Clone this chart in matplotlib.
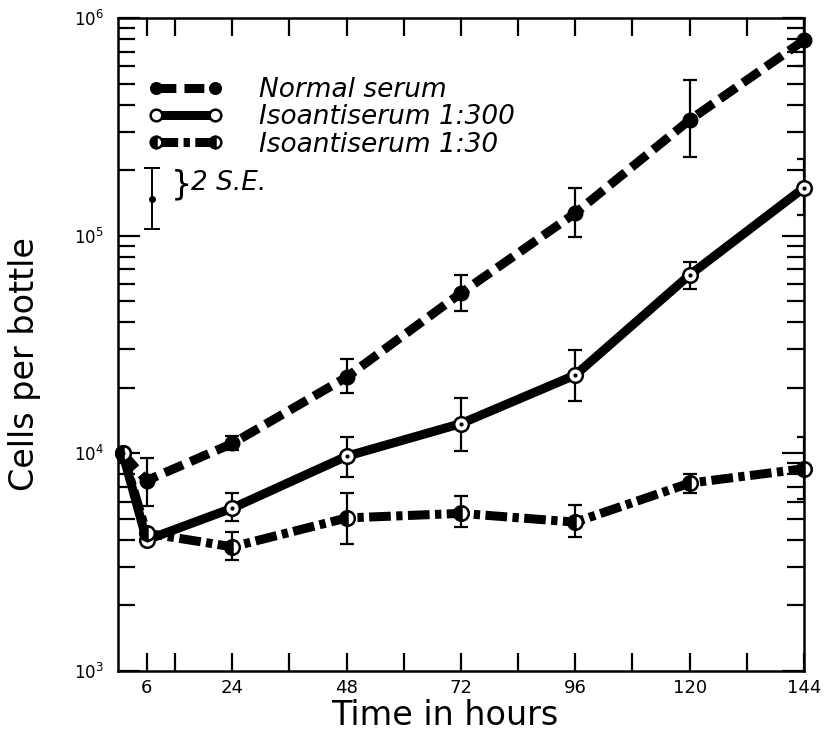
import matplotlib
matplotlib.use("Agg")
import matplotlib.pyplot as plt
import numpy as np

# ---- data ----
hours = [1, 6, 24, 48, 72, 96, 120, 144]
normal = [1.0e4, 7.5e3, 1.11e4, 2.24e4, 5.45e4, 1.27e5, 3.4e5, 7.9e5]
normal_lo = [None, 5.7e3, 1.04e4, 1.9e4, 4.5e4, 9.9e4, 2.3e5, 6.0e5]
normal_hi = [None, 9.5e3, 1.2e4, 2.7e4, 6.6e4, 1.65e5, 5.2e5, 1.03e6]

iso300 = [1.0e4, 4.0e3, 5.6e3, 9.7e3, 1.37e4, 2.29e4, 6.6e4, 1.66e5]
iso300_lo = [None, None, 4.9e3, 7.8e3, 1.02e4, 1.74e4, 5.7e4, 1.24e5]
iso300_hi = [None, None, 6.6e3, 1.19e4, 1.8e4, 2.98e4, 7.6e4, 2.25e5]

iso30 = [1.0e4, 4.3e3, 3.72e3, 5.05e3, 5.3e3, 4.83e3, 7.3e3, 8.5e3]
iso30_lo = [None, None, 3.24e3, 3.83e3, 4.6e3, 4.13e3, 6.6e3, 6.2e3]
iso30_hi = [None, None, 4.35e3, 6.6e3, 6.4e3, 5.8e3, 8.0e3, 1.19e4]

xticks = [6, 24, 48, 72, 96, 120, 144]
xminor = [12, 36, 60, 84, 108, 132]
labels = ["Normal serum", "Isoantiserum 1:300", "Isoantiserum 1:30"]

fig = plt.figure(figsize=(8.28, 7.32), dpi=100)
ax = fig.add_axes([0.1425, 0.0833, 0.971 - 0.1425, 0.9754 - 0.0833])
ax.set_yscale("log")
ax.set_xlim(0, 144)
ax.set_ylim(1e3, 1e6)

lw = 6.5
ms = 10.5

def errbars(x, v, lo, hi):
    xs, ys, el, eh = [], [], [], []
    for xi, vi, l, h in zip(x, v, lo, hi):
        if l is None:
            continue
        xs.append(xi); ys.append(vi); el.append(vi - l); eh.append(h - vi)
    ax.errorbar(xs, ys, yerr=[el, eh], fmt="none", ecolor="black",
                elinewidth=1.6, capsize=5, capthick=1.6, zorder=2)

errbars(hours, normal, normal_lo, normal_hi)
errbars(hours, iso300, iso300_lo, iso300_hi)
errbars(hours, iso30, iso30_lo, iso30_hi)

l1, = ax.plot(hours, normal, color="black", lw=lw, dashes=(2.2, 0.9),
              marker="o", ms=ms, mfc="black", mec="black", zorder=3,
              clip_on=False, label=labels[0])
l2, = ax.plot(hours, iso300, color="black", lw=lw, solid_capstyle="butt",
              marker="o", ms=ms, mfc="white", mec="black", mew=1.8, zorder=4,
              clip_on=False, label=labels[1])
ax.plot(hours, iso300, ls="none", marker="o", ms=2, color="black", zorder=5, clip_on=False)
l3, = ax.plot(hours, iso30, color="black", lw=lw, dashes=(2.4, 0.6, 0.7, 0.6),
              marker="o", ms=ms, fillstyle="left", mfc="black", mfcalt="white",
              mec="black", mew=1.8, zorder=4, clip_on=False, label=labels[2])

# ticks
ax.set_xticks(xticks)
ax.set_xticks(xminor, minor=True)
ax.set_xticklabels([str(t) for t in xticks])
ax.set_yticks([1e3, 1e4, 1e5, 1e6])
ax.set_yticklabels([r"$10^3$", r"$10^4$", r"$10^5$", r"$10^6$"])
ax.tick_params(axis="both", which="both", direction="in", top=True, right=True,
               width=1.6)
ax.tick_params(axis="x", which="major", length=13, labelsize=13, pad=6)
ax.tick_params(axis="x", which="minor", length=13)
ax.tick_params(axis="y", which="major", length=16, labelsize=12, pad=10)
ax.tick_params(axis="y", which="minor", length=12, labelleft=False)
for s in ax.spines.values():
    s.set_linewidth(1.8)

ax.set_xlabel("Time in hours", fontsize=24)
ax.xaxis.set_label_coords(0.477, -0.043)
ax.set_ylabel("Cells per bottle", fontsize=24)
ax.yaxis.set_label_coords(-0.112, 0.47)

leg = ax.legend(handles=[l1, l2, l3], loc="upper left",
                bbox_to_anchor=(0.044, 0.909), frameon=False, numpoints=2,
                borderaxespad=0, borderpad=0, markerscale=0.8,
                handlelength=2.85, handletextpad=1.35, labelspacing=0.04,
                prop={"style": "italic", "size": 19})

# 2 S.E. key
ax.errorbar([0.05], [0.723], yerr=[[0.046], [0.047]], transform=ax.transAxes,
            fmt="o", ms=4, color="black", elinewidth=1.4, capsize=6, capthick=1.4,
            clip_on=False)
ax.text(0.077, 0.745, "}", transform=ax.transAxes, fontsize=24,
        va="center", ha="left")
ax.text(0.106, 0.747, "2 S.E.", transform=ax.transAxes, fontsize=19,
        style="italic", va="center", ha="left")

fig.savefig("out.png", dpi=100)
